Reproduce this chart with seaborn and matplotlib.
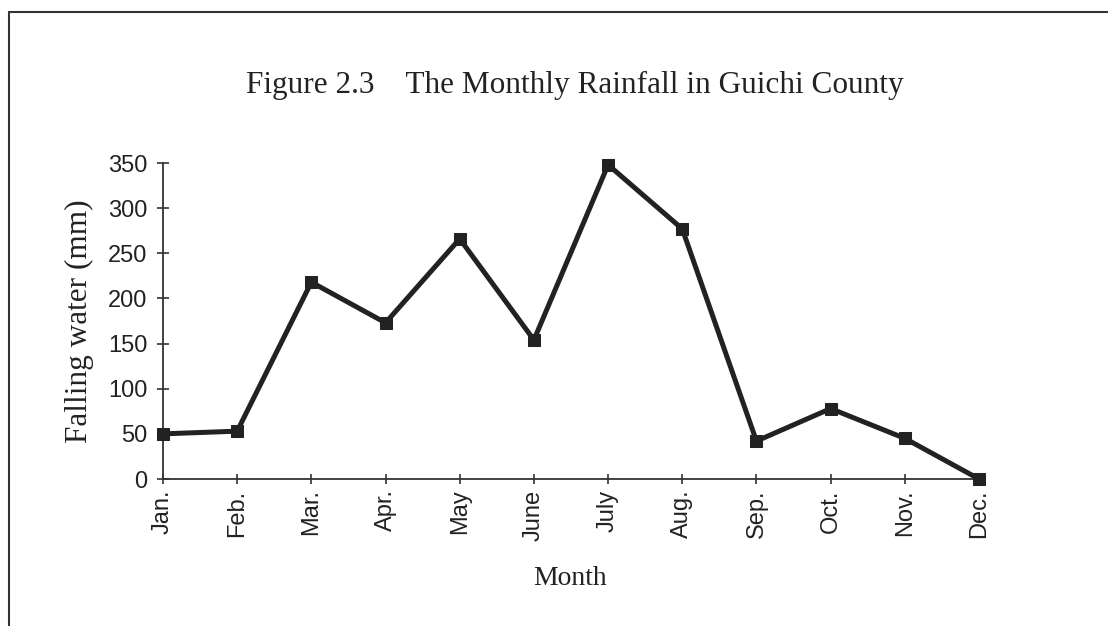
import numpy as np
import pandas as pd
import matplotlib
matplotlib.use("Agg")
import matplotlib.pyplot as plt
from matplotlib.lines import Line2D
import seaborn as sns

months = ["Jan.", "Feb.", "Mar.", "Apr.", "May", "June", "July", "Aug.", "Sep.", "Oct.", "Nov.", "Dec."]
rainfall = [50, 53, 218, 173, 266, 154, 348, 277, 42, 78, 45, 0]
yticks = [0, 50, 100, 150, 200, 250, 300, 350]
title = "Figure 2.3    The Monthly Rainfall in Guichi County"
ylabel = "Falling water (mm)"
xlabel = "Month"

sns.set_style("ticks")
plt.rcParams["font.family"] = ["Liberation Sans", "DejaVu Sans"]

df = pd.DataFrame({"pos": np.arange(len(months)), "rain": rainfall})

fig = plt.figure(figsize=(11.08, 6.26), dpi=100)
ax = fig.add_axes([163 / 1108, 1 - 479 / 626, (979 - 163) / 1108, (479 - 163) / 626])

sns.lineplot(data=df, x="pos", y="rain", ax=ax, color="#222222", linewidth=3.6,
             marker="s", markersize=8, markeredgecolor="#222222", markerfacecolor="#222222",
             clip_on=False, zorder=5)

ax.set_xlim(0, len(months) - 1)
ax.set_ylim(0, 350)
ax.set_xticks(df["pos"])
ax.set_xticklabels(months, rotation=90, fontsize=17, color="#222222")
ax.set_yticks(yticks)
ax.set_yticklabels([str(v) for v in yticks], fontsize=17, color="#222222")

for s in ["top", "right"]:
    ax.spines[s].set_visible(False)
for s in ["left", "bottom"]:
    ax.spines[s].set_linewidth(1.3)
    ax.spines[s].set_color("#333333")
ax.tick_params(axis="y", direction="inout", length=8, width=1.2, color="#333333", pad=7)
ax.tick_params(axis="x", direction="inout", length=7, width=1.2, color="#333333", pad=4)

ax.set_ylabel(ylabel, fontsize=22.5, family=["Liberation Serif"], color="#222222")
ax.yaxis.set_label_coords(-0.102, 0.5)
ax.yaxis.label.set_va("center")
ax.set_xlabel(xlabel, fontsize=20, family=["Liberation Serif"], color="#222222")
ax.xaxis.set_label_coords(0.499, -0.316)
ax.xaxis.label.set_va("center")

fig.text(575 / 1108, 1 - 85 / 626, title, ha="center", va="center",
         fontsize=22.5, family=["Liberation Serif"], color="#222222")

# scanned page frame
fig.add_artist(Line2D([9 / 1108, 9 / 1108], [0, 1 - 12 / 626], transform=fig.transFigure,
                      color="#333333", linewidth=1.5))
fig.add_artist(Line2D([9 / 1108, 1], [1 - 12 / 626, 1 - 12 / 626], transform=fig.transFigure,
                      color="#333333", linewidth=1.5))

fig.savefig("out.png", dpi=100, facecolor="white")
